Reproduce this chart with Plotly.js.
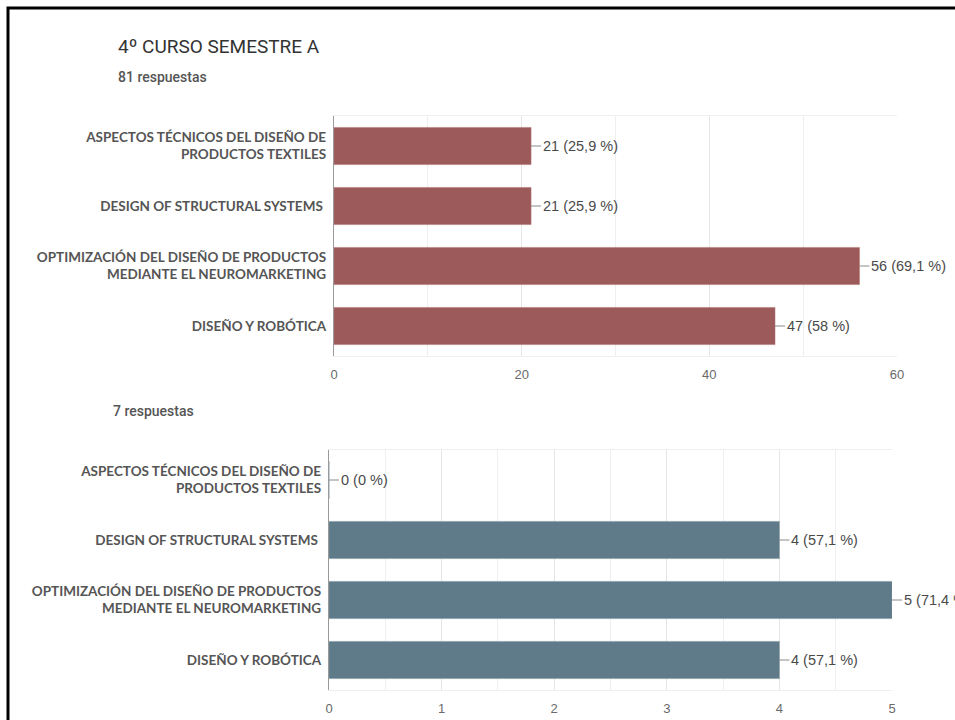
<!DOCTYPE html>
<html>
<head>
<meta charset="utf-8">
<script src="https://cdn.plot.ly/plotly-3.0.1.min.js"></script>
<style>html,body{margin:0;padding:0;background:#fff;}#chart{width:955px;height:720px;}</style>
</head>
<body>
<div id="chart"></div>
<script>
const categories = [
  "ASPECTOS TÉCNICOS DEL DISEÑO DE<br>PRODUCTOS TEXTILES",
  "DESIGN OF STRUCTURAL SYSTEMS ",
  "OPTIMIZACIÓN DEL DISEÑO DE PRODUCTOS<br>MEDIANTE EL NEUROMARKETING",
  "DISEÑO Y ROBÓTICA"
];
const mainTitle = "4º CURSO SEMESTRE A";
const responsesTop = "81 respuestas";
const responsesBottom = "7 respuestas";
const countsTop = [21, 21, 56, 47];
const pctTop = ["25,9", "25,9", "69,1", "58"];
const countsBottom = [0, 4, 5, 4];
const pctBottom = ["0", "57,1", "71,4", "57,1"];

const W = 955, H = 720;
const px = v => v / W;
const py = v => 1 - v / H;

const colorTop = "#9c5a5b";
const colorBottom = "#5f7a89";

const labelFont = {family: "Lato, 'Open Sans', sans-serif", size: 13.5, color: "#555555", weight: 700};
const tickFont = {family: "'Liberation Sans', Arial, sans-serif", size: 13, color: "#6a6a6a"};

const traces = [
  {type: "bar", orientation: "h", x: countsTop, y: categories, xaxis: "x", yaxis: "y",
   marker: {color: colorTop, line: {color: "#b07070", width: 0.5}}, width: 0.62, hoverinfo: "none"},
  {type: "bar", orientation: "h", x: countsBottom, y: categories, xaxis: "x2", yaxis: "y2",
   marker: {color: colorBottom, line: {color: "#7a93a0", width: 0.5}}, width: 0.62, hoverinfo: "none"}
];

const annotations = [];
function addValueLabels(counts, pcts, xref, yref) {
  counts.forEach((c, i) => {
    annotations.push({
      x: c, y: categories[i], xref: xref, yref: yref,
      text: c + " (" + pcts[i] + " %)",
      showarrow: true, arrowhead: 0, arrowwidth: 1, arrowcolor: "#8a8a8a",
      ax: 10, ay: 0, xanchor: "left", yanchor: "middle",
      font: {family: "'Liberation Sans', Arial, sans-serif", size: 14.5, color: "#4a4a4a"},
      borderpad: 1
    });
  });
}
addValueLabels(countsTop, pctTop, "x", "y");
addValueLabels(countsBottom, pctBottom, "x2", "y2");

annotations.push({text: mainTitle, xref: "paper", yref: "paper", x: px(116), y: py(46), xanchor: "left", yanchor: "middle",
  showarrow: false, font: {family: "Roboto, sans-serif", size: 19, color: "#333333"}});
annotations.push({text: responsesTop, xref: "paper", yref: "paper", x: px(116), y: py(77), xanchor: "left", yanchor: "middle",
  showarrow: false, font: {family: "Roboto, sans-serif", size: 14, color: "#555555", weight: 500}});
annotations.push({text: responsesBottom, xref: "paper", yref: "paper", x: px(111), y: py(411), xanchor: "left", yanchor: "middle",
  showarrow: false, font: {family: "Roboto, sans-serif", size: 14, color: "#555555", weight: 500}});

const layout = {
  width: W, height: H,
  margin: {l: 0, r: 0, t: 0, b: 0},
  paper_bgcolor: "#ffffff", plot_bgcolor: "#ffffff",
  showlegend: false,
  xaxis: {domain: [px(334), px(897)], anchor: "y", range: [0, 60], dtick: 20, tick0: 0,
    showgrid: true, gridcolor: "#e6e6e6", gridwidth: 1, zeroline: false,
    minor: {dtick: 10, showgrid: true, gridcolor: "#efefef"},
    showline: true, linecolor: "#efefef", mirror: true,
    tickfont: tickFont, ticks: "", ticklabelstandoff: 6, fixedrange: true},
  yaxis: {domain: [py(356), py(116)], anchor: "x", autorange: "reversed", type: "category",
    showline: true, linecolor: "#9a9a9a", linewidth: 1.2, showgrid: false, zeroline: false,
    ticks: "", tickfont: labelFont, ticklabelstandoff: 4},
  xaxis2: {domain: [px(329), px(892)], anchor: "y2", range: [0, 5], dtick: 1, tick0: 0,
    showgrid: true, gridcolor: "#e6e6e6", gridwidth: 1, zeroline: false,
    minor: {dtick: 0.5, showgrid: true, gridcolor: "#efefef"},
    showline: true, linecolor: "#efefef", mirror: true,
    tickfont: tickFont, ticks: "", ticklabelstandoff: 6, fixedrange: true},
  yaxis2: {domain: [py(690), py(450)], anchor: "x2", autorange: "reversed", type: "category",
    showline: true, linecolor: "#9a9a9a", linewidth: 1.2, showgrid: false, zeroline: false,
    ticks: "", tickfont: labelFont, ticklabelstandoff: 4},
  annotations: annotations,
  shapes: [
    {type: "rect", xref: "paper", yref: "paper", x0: px(8), x1: 1.2, y0: -0.2, y1: py(8),
     line: {color: "#000000", width: 3}, fillcolor: "rgba(0,0,0,0)"}
  ]
};

Plotly.newPlot("chart", traces, layout, {displayModeBar: false, staticPlot: true});
</script>
</body>
</html>
